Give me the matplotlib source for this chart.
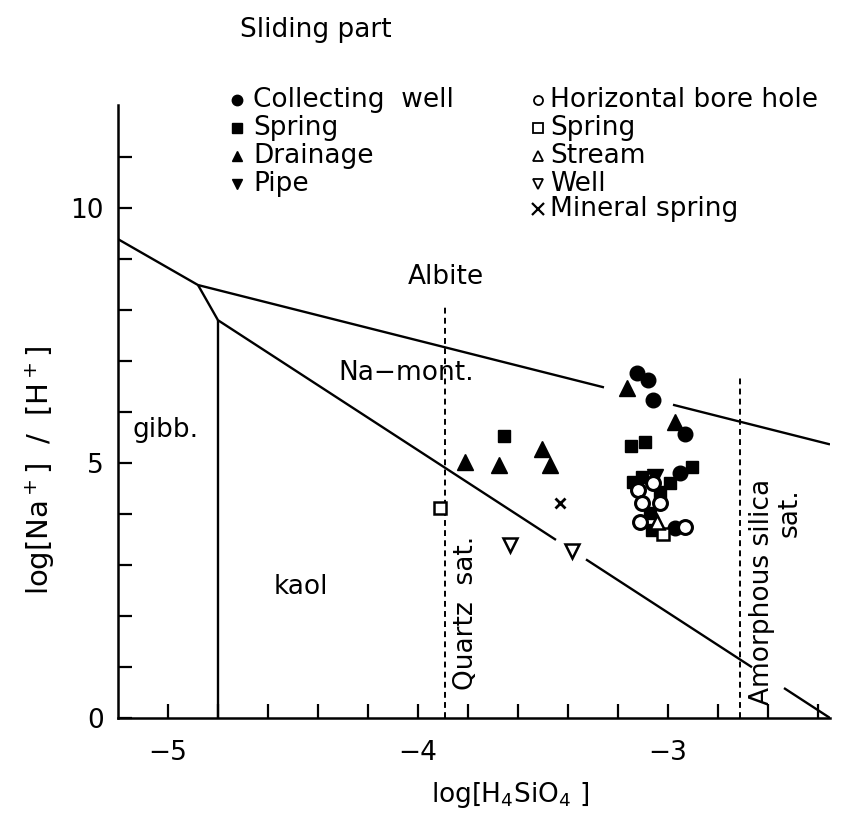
import matplotlib
matplotlib.use("Agg")
import matplotlib.pyplot as plt
import numpy as np

plt.rcParams['font.family'] = ['DejaVu Sans']
plt.rcParams['mathtext.default'] = 'regular'

# sample points, log[H4SiO4] vs log[Na+]/[H+]
collecting_x = [-3.124, -3.08, -3.06, -2.932, -2.952, -2.972]
collecting_y = [6.76, 6.63, 6.24, 5.57, 4.80, 3.73]
spring_x = [-3.656, -3.148, -3.092, -3.14, -3.104, -2.992, -2.904, -3.032, -3.072, -3.064]
spring_y = [5.53, 5.33, 5.41, 4.63, 4.73, 4.61, 4.92, 4.43, 4.02, 3.69]
drainage_x = [-3.812, -3.676, -3.504, -3.472, -3.164, -2.972]
drainage_y = [5.02, 4.96, 5.27, 4.96, 6.47, 5.80]
pipe_x = [-3.05]
pipe_y = [4.72]
borehole_x = [-3.06, -3.12, -3.104, -3.032, -3.112, -2.932]
borehole_y = [4.61, 4.47, 4.22, 4.22, 3.84, 3.75]
spring2_x = [-3.912, -3.02]
spring2_y = [4.12, 3.61]
stream_x = [-3.044]
stream_y = [3.84]
well_x = [-3.632, -3.384]
well_y = [3.40, 3.27]
mineral_x = [-3.432]
mineral_y = [4.22]

# stability field boundaries (segments, with gaps as in the original)
boundaries = [
    ([-5.2, -4.88, -3.256], [9.39, 8.49, 6.483]),
    ([-2.98, -2.352], [6.142, 5.365]),
    ([-4.88, -4.8], [8.49, 7.80]),
    ([-4.8, -4.8], [7.80, 0.0]),
    ([-4.8, -3.448], [7.80, 3.492]),
    ([-3.328, -2.664], [3.110, 0.995]),
    ([-2.536, -2.352], [0.587, 0.0]),
]
quartz_x = -3.89
quartz_top = 8.1
amorph_x = -2.712
amorph_top = 6.69


def main():
    fig = plt.figure(figsize=(8.44, 8.23), dpi=100)
    ax = fig.add_axes([0.1398, 0.1276, 0.8436, 0.7448])
    W, H = 844.0, 823.0

    for xs, ys in boundaries:
        ax.plot(xs, ys, color='black', lw=1.7, solid_capstyle='butt')
    ax.plot([quartz_x, quartz_x], [0, quartz_top], color='black', lw=1.4, ls=(0, (3, 2.2)))
    ax.plot([amorph_x, amorph_x], [0, amorph_top], color='black', lw=1.4, ls=(0, (3, 2.2)))

    ms = 10.5
    ax.plot(collecting_x, collecting_y, 'o', color='black', ms=ms)
    ax.plot(spring_x, spring_y, 's', color='black', ms=ms - 1.5)
    ax.plot(drainage_x, drainage_y, '^', color='black', ms=ms + 1)
    ax.plot(pipe_x, pipe_y, 'v', color='black', ms=ms + 1)
    ax.plot(borehole_x, borehole_y, 'o', mfc='white', mec='black', mew=2.2, ms=ms - 0.5)
    ax.plot(spring2_x, spring2_y, 's', mfc='white', mec='black', mew=1.8, ms=ms - 2.5)
    ax.plot(stream_x, stream_y, '^', mfc='white', mec='black', mew=1.8, ms=ms)
    ax.plot(well_x, well_y, 'v', mfc='white', mec='black', mew=1.8, ms=ms)
    ax.plot(mineral_x, mineral_y, 'x', color='black', mew=2, ms=6.5)

    fs = 19
    ax.text(-3.888, 8.65, 'Albite', fontsize=fs, ha='center', va='center')
    ax.text(-4.046, 6.76, 'Na\u2212mont.', fontsize=fs, ha='center', va='center')
    ax.text(-5.14, 5.65, 'gibb.', fontsize=fs, ha='left', va='center')
    ax.text(-4.47, 2.57, 'kaol', fontsize=fs, ha='center', va='center')
    ax.text(-3.806, 0.55, 'Quartz  sat.', fontsize=fs, rotation=90, ha='center', va='bottom')
    ax.text(-2.625, 0.25, 'Amorphous silica', fontsize=fs, rotation=90, ha='center', va='bottom')
    ax.text(-2.515, 4.5, 'sat.', fontsize=fs, rotation=90, ha='center', va='top')

    ax.set_xlim(-5.2, -2.352)
    ax.set_ylim(0, 12.02)
    ax.spines['top'].set_visible(False)
    ax.spines['right'].set_visible(False)
    ax.spines['left'].set_linewidth(1.8)
    ax.spines['bottom'].set_linewidth(1.8)

    xt = np.arange(-5.0, -2.39, 0.2)
    xlab = {-5: '\u22125', -4: '\u22124', -3: '\u22123'}
    ax.set_xticks(xt)
    ax.set_xticklabels([xlab.get(int(round(t)), '') if abs(t - round(t)) < 1e-6 else '' for t in xt])
    ax.set_yticks(range(0, 12))
    ax.set_yticklabels(['0' if v == 0 else '5' if v == 5 else '10' if v == 10 else '' for v in range(0, 12)])
    ax.tick_params(direction='in', length=10, width=1.6, labelsize=fs)
    ax.tick_params(axis='x', pad=16)
    ax.tick_params(axis='y', pad=10)

    fig.text(510 / W, 1 - 795 / H, 'log[H$_4$SiO$_4$ ]', fontsize=fs, ha='center', va='center')
    fig.text(40 / W, 1 - 470 / H, 'log[Na$^+$]  /  [H$^+$]', fontsize=21, rotation=90,
             ha='center', va='center')

    # legend drawn by hand, like the original
    fig.text(240 / W, 1 - 30 / H, 'Sliding part', fontsize=fs, ha='left', va='center')
    col1 = [('o', 'Collecting  well', True), ('s', 'Spring', True), ('^', 'Drainage', True), ('v', 'Pipe', True)]
    col2 = [('o', 'Horizontal bore hole', False), ('s', 'Spring', False), ('^', 'Stream', False),
            ('v', 'Well', False), ('x', 'Mineral spring', False)]
    rows = [100, 128, 156, 184, 209]
    for items, mx, tx in [(col1, 237, 253), (col2, 538, 550)]:
        for (m, label, filled), ry in zip(items, rows):
            y = 1 - ry / H
            if m == 'x':
                ax.plot([mx / W], [y], 'x', color='black', ms=9, mew=1.6, transform=fig.transFigure, clip_on=False)
            elif filled:
                ax.plot([mx / W], [y], m, color='black', ms=7.5, transform=fig.transFigure, clip_on=False)
            else:
                ax.plot([mx / W], [y], m, mfc='white', mec='black', mew=1.3, ms=6.5,
                        transform=fig.transFigure, clip_on=False)
            fig.text(tx / W, y, label, fontsize=fs, ha='left', va='center')

    fig.savefig('out.png', dpi=100)


if __name__ == "__main__":
    main()
